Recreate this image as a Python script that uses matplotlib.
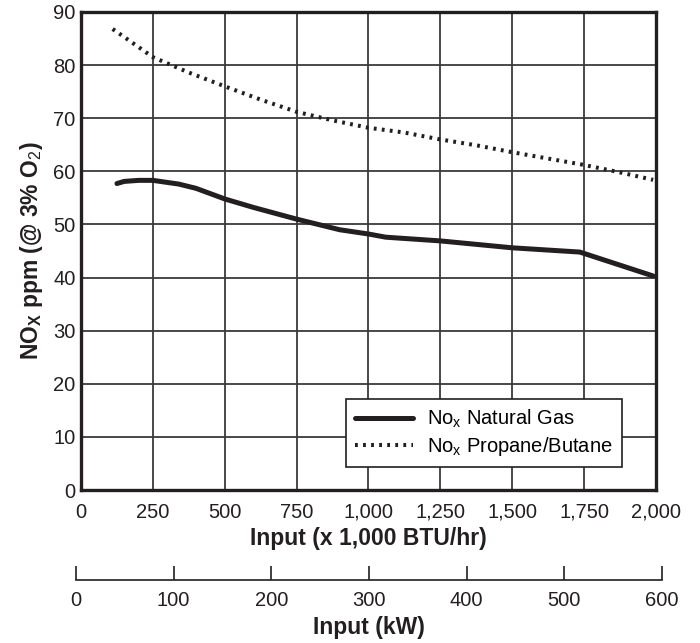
import numpy as np
import matplotlib
matplotlib.use('Agg')
import matplotlib.pyplot as plt

plt.rcParams['font.family'] = ['Liberation Sans', 'DejaVu Sans']
plt.rcParams['mathtext.fontset'] = 'custom'
plt.rcParams['mathtext.rm'] = 'Liberation Sans'
plt.rcParams['mathtext.it'] = 'Liberation Sans'
plt.rcParams['mathtext.bf'] = 'Liberation Sans:bold'

# Data
gas_x = [125, 150, 200, 250, 340, 400, 440, 500, 600, 750, 900, 1000, 1060, 1250, 1500, 1735, 1990]
gas_y = [57.7, 58.1, 58.3, 58.3, 57.6, 56.8, 56.0, 54.8, 53.2, 51.0, 49.0, 48.2, 47.6, 46.9, 45.6, 44.8, 40.3]

prop_x = [110, 150, 250, 375, 500, 625, 750, 875, 1000, 1125, 1250, 1375, 1500, 1625, 1750, 1875, 1990]
prop_y = [86.8, 85.3, 81.5, 78.6, 76.0, 73.5, 71.2, 69.6, 68.2, 67.3, 66.0, 64.9, 63.6, 62.4, 61.2, 59.8, 58.4]

x_ticks = [0, 250, 500, 750, 1000, 1250, 1500, 1750, 2000]
x_labels = ['0', '250', '500', '750', '1,000', '1,250', '1,500', '1,750', '2,000']
y_ticks = [0, 10, 20, 30, 40, 50, 60, 70, 80, 90]
kw_ticks = [0, 100, 200, 300, 400, 500, 600]

ink = '#231f20'

fig = plt.figure(figsize=(7.0, 6.43), dpi=100)

# Main chart
ax = fig.add_axes([81/700, 1 - 490/643, 575/700, 478/643])
ax.plot(gas_x, gas_y, color=ink, lw=3.6, solid_capstyle='round',
        label=r'No$_{\mathrm{x}}$ Natural Gas', zorder=3)
ax.plot(prop_x, prop_y, color=ink, lw=2.9, linestyle=(0, (0.7, 1.3)),
        label=r'No$_{\mathrm{x}}$ Propane/Butane', zorder=3)

ax.set_xlim(0, 2000)
ax.set_ylim(0, 90)
ax.set_xticks(x_ticks)
ax.set_xticklabels(x_labels)
ax.set_yticks(y_ticks)
ax.tick_params(length=0, labelsize=14.5, colors=ink)
ax.tick_params(axis='x', pad=9)
ax.tick_params(axis='y', pad=4)
ax.grid(True, color='#3a3a3a', lw=1.3)
ax.set_axisbelow(True)
for s in ax.spines.values():
    s.set_linewidth(2.4)
    s.set_color(ink)

ax.set_xlabel('Input (x 1,000 BTU/hr)', fontsize=16.5, fontweight='bold',
              color=ink, labelpad=4)
ax.set_ylabel(r'NO$_{\mathbf{X}}$ ppm (@ 3% O$_{2}$)', fontsize=16.5,
              fontweight='bold', color=ink)
ax.yaxis.set_label_coords(-0.063, 0.5)

leg = ax.legend(loc='lower right', bbox_to_anchor=(0.941, 0.048), fontsize=14.5,
                frameon=True, fancybox=False, handlelength=2.9,
                borderpad=0.45, labelspacing=0.25, handletextpad=0.7,
                borderaxespad=0)
leg.get_frame().set_edgecolor(ink)
leg.get_frame().set_linewidth(1.2)
leg.get_frame().set_alpha(1)

# Secondary kW scale
ax2 = fig.add_axes([76/700, 1 - 580/643, 586/700, 0.001])
ax2.set_xlim(0, 600)
ax2.set_xticks(kw_ticks)
ax2.set_yticks([])
for k in ['left', 'right', 'top']:
    ax2.spines[k].set_visible(False)
ax2.spines['bottom'].set_linewidth(1.2)
ax2.spines['bottom'].set_color(ink)
ax2.patch.set_visible(False)
ax2.tick_params(axis='x', direction='in', length=10, width=1.2, labelsize=14.5,
                pad=8, colors=ink)
ax2.set_xlabel('Input (kW)', fontsize=16.5, fontweight='bold', color=ink,
               labelpad=4)

fig.savefig('out.png', dpi=100)
